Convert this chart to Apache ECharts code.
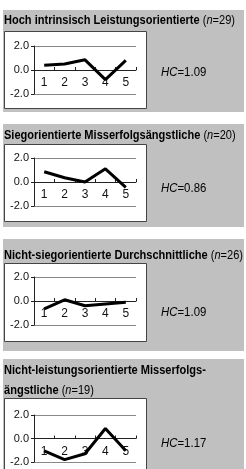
<!DOCTYPE html>
<html>
<head>
<meta charset="utf-8">
<script src="https://cdn.jsdelivr.net/npm/echarts@6/dist/echarts.min.js"></script>
<style>
html, body { margin: 0; padding: 0; background: #fff; }
#main { width: 246px; height: 469px; }
</style>
</head>
<body>
<div id="main"></div>
<script>
var categories = ['1', '2', '3', '4', '5'];
var yTicks = [-2, 0, 2];

var hochIntrinsisch = [0.4, 0.5, 0.85, -0.8, 0.8];
var siegorientiert = [0.85, 0.35, 0.0, 1.1, -0.45];
var nichtSiegorientiert = [-0.65, 0.1, -0.4, -0.25, -0.1];
var nichtLeistungsorientiert = [-1.05, -1.8, -1.3, 0.85, -1.05];

var groupNames = [
	['Hoch intrinsisch Leistungsorientierte'],
	['Siegorientierte Misserfolgsängstliche'],
	['Nicht-siegorientierte Durchschnittliche'],
	['Nicht-leistungsorientierte Misserfolgs-', 'ängstliche']
];
var groupN = [29, 20, 26, 19];
var groupHC = ['1.09', '0.86', '1.09', '1.17'];
var groupSeries = [hochIntrinsisch, siegorientiert, nichtSiegorientiert, nichtLeistungsorientiert];

// layout of the four panels (px)
var panels = [
	{ bgTop: 10, bgH: 102, titleY: 18, boxTop: 31, boxH: 77, gridTop: 46, gridH: 48, hcY: 73 },
	{ bgTop: 124, bgH: 103, titleY: 133, boxTop: 144, boxH: 77, gridTop: 158, gridH: 48, hcY: 189 },
	{ bgTop: 239, bgH: 112, titleY: 253, boxTop: 263, boxH: 78, gridTop: 277, gridH: 48, hcY: 313 },
	{ bgTop: 359, bgH: 120, titleY: 368, boxTop: 398, boxH: 90, gridTop: 415, gridH: 47, hcY: 444 }
];

var font = 'Liberation Sans, Arial, sans-serif';
var rich = {
	b: { fontFamily: font, fontSize: 12, fontWeight: 'bold', color: '#111' },
	r: { fontFamily: font, fontSize: 12, color: '#111' },
	i: { fontFamily: font, fontSize: 12, fontStyle: 'italic', color: '#111' }
};

var graphics = [], grids = [], xAxes = [], yAxes = [], series = [];

panels.forEach(function(p, k) {
	graphics.push({
		type: 'rect', z: 0,
		shape: { x: 3, y: p.bgTop, width: 241, height: p.bgH },
		style: { fill: '#c0c0c0' }
	});
	graphics.push({
		type: 'rect', z: 1,
		shape: { x: 4.5, y: p.boxTop + 0.5, width: 142, height: p.boxH },
		style: { fill: '#fff', stroke: '#444', lineWidth: 1 }
	});
	var lines = groupNames[k];
	var tail = ' {r|(}{i|n}{r|=' + groupN[k] + ')}';
	var txt;
	if (lines.length == 1) {
		txt = '{b|' + lines[0] + '}' + tail;
	} else {
		txt = '{b|' + lines[0] + '}\n{b|' + lines[1] + '}' + tail;
	}
	graphics.push({
		type: 'text', z: 2, x: 4, y: p.titleY - 7, scaleX: 0.92,
		style: { text: txt, rich: rich, lineHeight: 20, verticalAlign: 'top' }
	});
	graphics.push({
		type: 'text', z: 2, x: 161, y: p.hcY, scaleX: 0.95,
		style: { text: '{i|HC}{r|=' + groupHC[k] + '}', rich: rich, verticalAlign: 'middle' }
	});

	grids.push({ left: 34, top: p.gridTop, width: 102, height: p.gridH, z: 3 });
	// category axis sits on the zero line, like the original
	xAxes.push({
		type: 'category', gridIndex: k, data: categories,
		position: 'bottom', offset: -p.gridH / 2,
		axisLine: { onZero: false, lineStyle: { color: '#222', width: 1 } },
		axisTick: { show: true, inside: true, length: 3, lineStyle: { color: '#222' } },
		axisLabel: { color: '#111', fontFamily: font, fontSize: 12, margin: 7 },
		z: 3
	});
	yAxes.push({
		type: 'value', gridIndex: k, min: -2, max: 2, interval: 2,
		axisLine: { show: true, lineStyle: { color: '#222' } },
		axisTick: { show: true, length: 3, lineStyle: { color: '#222' } },
		axisLabel: {
			color: '#111', fontFamily: font, fontSize: 11, margin: 5,
			formatter: function(v) { return v.toFixed(1); }
		},
		splitLine: { show: true, lineStyle: { color: '#888', width: 1 } },
		z: 3
	});
	series.push({
		type: 'line', xAxisIndex: k, yAxisIndex: k,
		data: groupSeries[k], symbol: 'none', animation: false,
		lineStyle: { color: '#000', width: 3 }, z: 4
	});
});

var chart = echarts.init(document.getElementById('main'));
chart.setOption({
	animation: false,
	graphic: graphics,
	grid: grids,
	xAxis: xAxes,
	yAxis: yAxes,
	series: series
});
</script>
</body>
</html>
